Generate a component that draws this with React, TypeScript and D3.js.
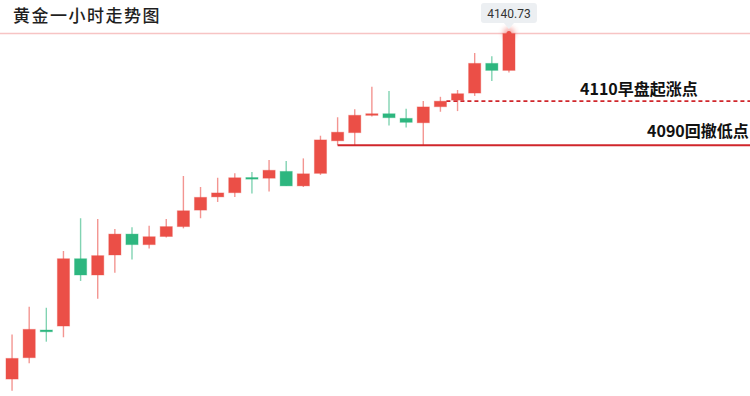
import * as d3 from "d3";

// one-hour gold candles
const opens = [
  3983.7, 3993.4, 4006.0, 4007.8, 4038.4, 4031.0, 4040.1, 4049.6, 4044.8, 4048.5,
  4053.0, 4060.5, 4066.5, 4068.4, 4075.3, 4075.0, 4078.1, 4071.5, 4077.2, 4092.0,
  4095.7, 4103.7, 4104.3, 4102.2, 4100.2, 4107.5, 4110.5, 4113.7, 4127.2, 4124.0,
];
const closes = [
  3993.1, 4006.3, 4005.2, 4038.4, 4031.0, 4039.8, 4049.6, 4044.8, 4048.4, 4053.0,
  4060.2, 4066.3, 4068.3, 4075.2, 4074.6, 4078.6, 4071.5, 4077.0, 4092.4, 4095.9,
  4103.6, 4104.3, 4102.5, 4100.4, 4107.4, 4110.0, 4113.4, 4127.2, 4124.0, 4140.73,
];
const highs = [
  4004.0, 4016.6, 4016.1, 4041.9, 4056.8, 4056.5, 4051.9, 4052.7, 4053.4, 4056.5,
  4076.0, 4071.0, 4075.2, 4077.2, 4077.8, 4083.3, 4082.8, 4084.0, 4094.3, 4102.7,
  4106.3, 4116.6, 4114.6, 4106.6, 4110.1, 4112.0, 4115.1, 4131.9, 4130.4, 4140.73,
];
const lows = [
  3978.4, 3990.9, 4000.7, 4002.7, 4028.3, 4020.2, 4032.0, 4038.1, 4043.1, 4048.1,
  4052.2, 4056.8, 4064.2, 4066.5, 4068.0, 4068.9, 4071.5, 4071.0, 4076.5, 4090.0,
  4090.0, 4103.0, 4099.0, 4098.0, 4090.0, 4105.2, 4105.5, 4112.4, 4119.2, 4123.1,
];

const title = "黄金一小时走势图";
const lastPrice = 4140.73;
const levelValues = [4110, 4090];
const levelLabels = ["4110早盘起涨点", "4090回撤低点"];

const W = 750;
const H = 396;
const UP = "#eb4f47";
const DOWN = "#2db67f";
const LEVEL = "#d0262b";

export default function App() {
  const idx = d3.range(opens.length);

  const x = d3.scaleBand<number>().domain(idx).range([1, 520]).padding(0.29);
  const y = d3.scaleLinear().domain([3976, 4156]).range([H, 0]);
  const cx = (i: number) => (x(i) || 0) + x.bandwidth() / 2;

  const lastX = cx(opens.length - 1);
  const lastY = y(lastPrice);

  return (
    <div style={{ position: "fixed", left: 0, top: 0 }}>
      <svg width={W} height={H} style={{ display: "block", background: "#fff" }}>
        <defs>
          <filter id="glow" x="-100%" y="-100%" width="300%" height="300%">
            <feGaussianBlur stdDeviation="2.5" />
          </filter>
        </defs>

        {/* current price line */}
        <line x1={0} x2={W} y1={lastY} y2={lastY} stroke="#f7c4c4" strokeWidth={1.5} />

        <text
          x={13}
          y={22}
          fontFamily="'Noto Sans CJK SC'"
          fontSize={17}
          fontWeight={500}
          fill="#1f1f1f"
          letterSpacing={1.5}
        >
          {title}
        </text>

        {/* candles */}
        {idx.map((i) => {
          const up = closes[i] >= opens[i];
          const col = up ? UP : DOWN;
          const top = y(Math.max(opens[i], closes[i]));
          const bot = y(Math.min(opens[i], closes[i]));
          return (
            <g key={i}>
              <line
                x1={cx(i)}
                x2={cx(i)}
                y1={y(highs[i])}
                y2={y(lows[i])}
                stroke={col}
                strokeOpacity={0.6}
                strokeWidth={1.4}
              />
              <rect
                x={x(i)}
                y={top}
                width={x.bandwidth()}
                height={Math.max(bot - top, 1.6)}
                fill={col}
                stroke={col}
                strokeOpacity={0.35}
                strokeWidth={1}
              />
            </g>
          );
        })}

        {/* key levels */}
        <line
          x1={cx(25) + 6}
          x2={W}
          y1={y(levelValues[0])}
          y2={y(levelValues[0])}
          stroke={LEVEL}
          strokeWidth={1.8}
          strokeDasharray="4,3"
        />
        <line
          x1={cx(19)}
          x2={W}
          y1={y(levelValues[1])}
          y2={y(levelValues[1])}
          stroke={LEVEL}
          strokeWidth={2}
        />
        <text
          x={580}
          y={y(levelValues[0]) - 6}
          fontFamily="'Noto Sans CJK SC'"
          fontSize={16}
          fontWeight={600}
          fill="#111"
        >
          {levelLabels[0]}
        </text>
        <text
          x={647}
          y={y(levelValues[1]) - 8}
          fontFamily="'Noto Sans CJK SC'"
          fontSize={16}
          fontWeight={600}
          fill="#111"
        >
          {levelLabels[1]}
        </text>

        {/* last price marker */}
        <circle cx={lastX} cy={lastY} r={6} fill={UP} opacity={0.45} filter="url(#glow)" />
        <circle cx={lastX} cy={lastY} r={2.5} fill={UP} />
        <g transform={`translate(${lastX},0)`}>
          <rect x={-28} y={3} width={56} height={20} rx={3} fill="#eceff2" />
          <path d="M-5,23 L0,29 L5,23 Z" fill="#eceff2" />
          <text
            x={0}
            y={17.5}
            textAnchor="middle"
            fontFamily="Roboto, 'Liberation Sans', sans-serif"
            fontSize={12}
            fill="#333"
          >
            {lastPrice.toFixed(2)}
          </text>
        </g>
      </svg>
    </div>
  );
}
